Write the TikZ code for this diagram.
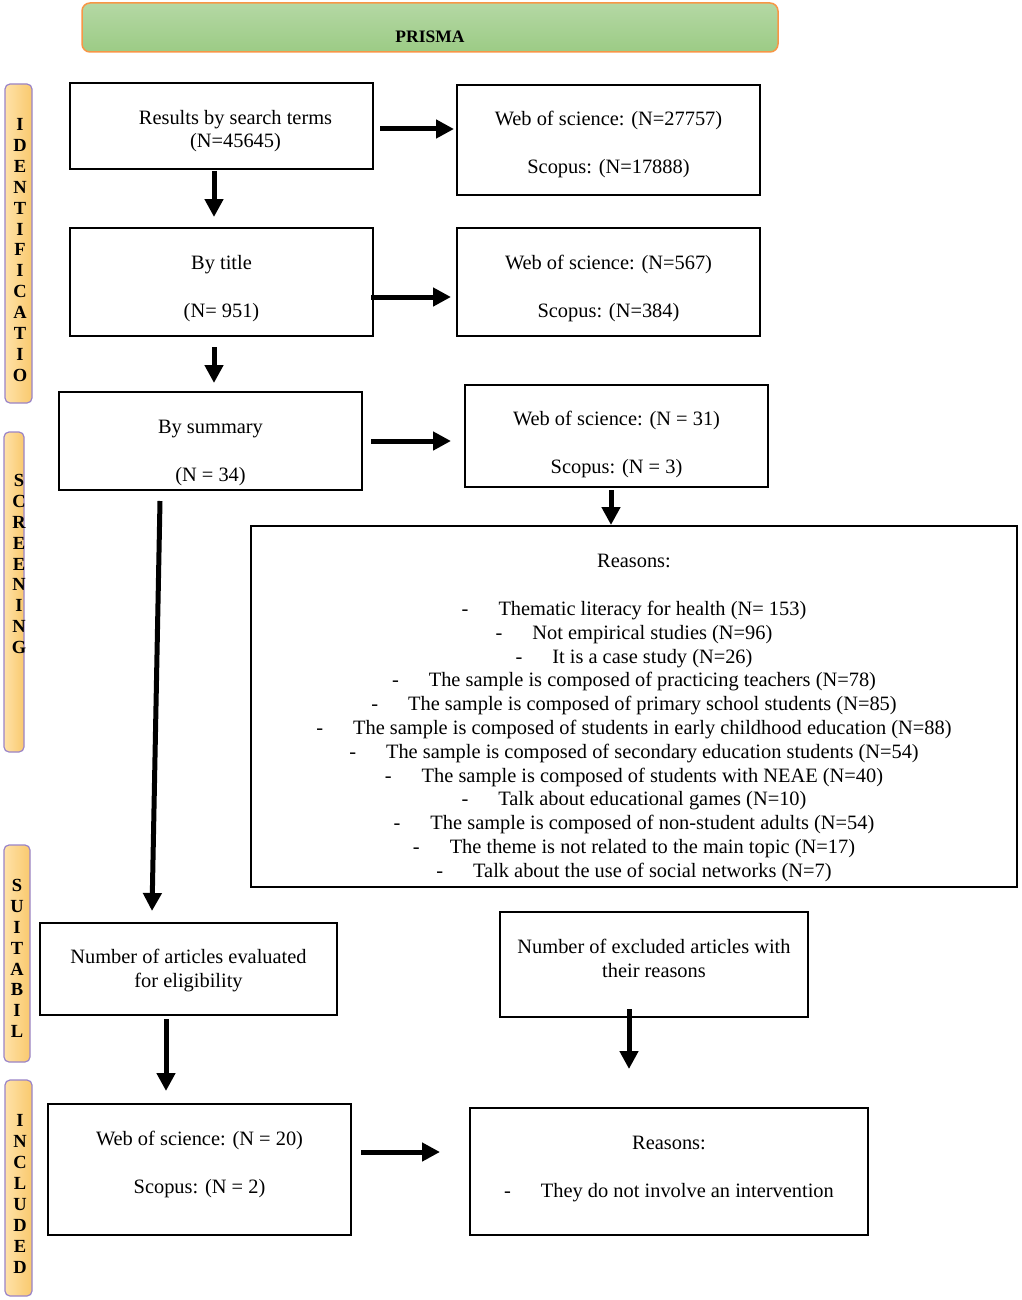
\documentclass[tikz,border=0pt]{standalone}
\usepackage{fontspec}
\setmainfont{Liberation Serif}
\usetikzlibrary{arrows.meta,positioning}

\definecolor{barorange}{HTML}{F9C96E}
\definecolor{barlight}{HTML}{FFE2A8}
\definecolor{barline}{HTML}{9A84C8}
\definecolor{topgreen}{HTML}{B4D8A4}
\definecolor{botgreen}{HTML}{9CCB85}
\definecolor{topline}{HTML}{F79646}
% lines of a box, moved down by #1
\newcommand{\boxlines}[2][0pt]{\raisebox{#1}[0pt][0pt]{\begin{tabular}{@{}c@{}}#2\end{tabular}}}

\begin{document}
\begin{tikzpicture}[x=1pt, y=-1pt,
    box/.style={draw=black, line width=2pt, inner sep=0pt,
        font=\fontsize{20.4}{23.8}\selectfont},
    stage/.style={draw=barline, line width=1.2pt, rounded corners=5pt,
        left color=barlight, right color=barorange},
    letters/.style={align=center, inner sep=0pt,
        font=\fontsize{18.5}{20.9}\selectfont\bfseries},
    flow/.style={line width=5pt, -{Triangle[length=18pt,width=18pt]}},
]
    \useasboundingbox (0,0) rectangle (1021,1300);

    % title bar
    \node[draw=topline, line width=1.5pt, rounded corners=8pt, top color=topgreen,
        bottom color=botgreen, minimum width=696pt, minimum height=49pt,
        font=\fontsize{17.5}{17.5}\selectfont\bfseries] (prisma) at (430,27.5)
        {\boxlines[-15.5pt]{PRISMA}};

    % stages
    \node[stage, minimum width=27pt, minimum height=319pt] (identbar) at (18.5,243.5) {};
    \node[letters] (ident) at (20,250) {I\\D\\E\\N\\T\\I\\F\\I\\C\\A\\T\\I\\O};
    \node[stage, minimum width=20pt, minimum height=320pt] (screenbar) at (14,592) {};
    \node[letters] (screen) at (19,564) {S\\C\\R\\E\\E\\N\\I\\N\\G};
    \node[stage, minimum width=26pt, minimum height=217pt] (suitbar) at (17,953.5) {};
    \node[letters] (suit) at (17,958.5) {S\\U\\I\\T\\A\\B\\I\\L};
    \node[stage, minimum width=27pt, minimum height=216pt] (inclbar) at (18.5,1188) {};
    \node[letters] (incl) at (20,1194) {I\\N\\C\\L\\U\\D\\E\\D};

    % boxes
    \node[box, minimum width=303pt, minimum height=86pt] (search) at (221.5,126)
        {\hspace*{28pt}\boxlines[-10.5pt]{Results by search terms\\(N=45645)}};
    \node[box, minimum width=303pt, minimum height=110pt] (searchdb) at (608.5,140)
        {\boxlines[-10pt]{Web of science: (N=27757)\\[23.8pt]Scopus: (N=17888)}};
    \node[box, minimum width=303pt, minimum height=108pt] (title) at (221.5,282)
        {\boxlines[-12pt]{By title\\[23.8pt](N= 951)}};
    \node[box, minimum width=303pt, minimum height=108pt] (titledb) at (608.5,282)
        {\boxlines[-12pt]{Web of science: (N=567)\\[23.8pt]Scopus: (N=384)}};
    \node[box, minimum width=303pt, minimum height=98pt] (summary) at (210.5,441)
        {\boxlines[-17pt]{By summary\\[23.8pt](N = 34)}};
    \node[box, minimum width=303pt, minimum height=102pt] (summarydb) at (616.5,436)
        {\boxlines[-14pt]{Web of science: (N = 31)\\[23.8pt]Scopus: (N = 3)}};
    \node[box, minimum width=766pt, minimum height=361pt] (reasons) at (634,706.5)
        {\boxlines[-16.5pt]{Reasons:\\[23.8pt]
        -\hspace{30pt}Thematic literacy for health (N= 153)\\
        -\hspace{30pt}Not empirical studies (N=96)\\
        -\hspace{30pt}It is a case study (N=26)\\
        -\hspace{30pt}The sample is composed of practicing teachers (N=78)\\
        -\hspace{30pt}The sample is composed of primary school students (N=85)\\
        -\hspace{30pt}The sample is composed of students in early childhood education (N=88)\\
        -\hspace{30pt}The sample is composed of secondary education students (N=54)\\
        -\hspace{30pt}The sample is composed of students with NEAE (N=40)\\
        -\hspace{30pt}Talk about educational games (N=10)\\
        -\hspace{30pt}The sample is composed of non-student adults (N=54)\\
        -\hspace{30pt}The theme is not related to the main topic (N=17)\\
        -\hspace{30pt}Talk about the use of social networks (N=7)}};
    \node[box, minimum width=297pt, minimum height=92pt] (eligible) at (188.5,969)
        {\boxlines[-7pt]{Number of articles evaluated\\for eligibility}};
    \node[box, minimum width=308pt, minimum height=105pt] (excluded) at (654,964.5)
        {\boxlines[-1.5pt]{Number of excluded articles with\\their reasons}};
    \node[box, minimum width=303pt, minimum height=131pt] (included) at (199.5,1169.5)
        {\boxlines[-0.5pt]{Web of science: (N = 20)\\[23.8pt]Scopus: (N = 2)}};
    \node[box, minimum width=398pt, minimum height=127pt] (reasonsfin) at (669,1171.5)
        {\boxlines[-2.5pt]{Reasons:\\[23.8pt]-\hspace{30pt}They do not involve an intervention}};

    % arrows
    \draw[flow] ([xshift=6,yshift=-3]search.east) -- ([xshift=-2]searchdb.west |- 0,129);
    \draw[flow] ([xshift=-7.5,yshift=-1]search.south) -- ([xshift=-7.5,yshift=10]title.north);
    \draw[flow] ([xshift=-3,yshift=-15]title.east) -- ([xshift=-5,yshift=-15]titledb.west);
    \draw[flow] ([xshift=-7.5,yshift=-10]title.south) -- ([xshift=3.5,yshift=8]summary.north);
    \draw[flow] ([xshift=8]summary.east) -- ([xshift=-13,yshift=-5]summarydb.west);
    \draw[flow] ([xshift=-5.5,yshift=-2]summarydb.south) -- ([xshift=-23]reasons.north);
    \draw[flow] ([xshift=-50.5,yshift=-10]summary.south) -- ([xshift=-36.5,yshift=11]eligible.north);
    \draw[flow] ([xshift=-22.5,yshift=-3]eligible.south) -- ([xshift=-33.5,yshift=12]included.north);
    \draw[flow] ([xshift=-25,yshift=9]excluded.south) -- ([xshift=-40,yshift=38]reasonsfin.north);
    \draw[flow] ([xshift=9,yshift=17.5]included.east) -- ([xshift=-29,yshift=19.5]reasonsfin.west);
\end{tikzpicture}
\end{document}
